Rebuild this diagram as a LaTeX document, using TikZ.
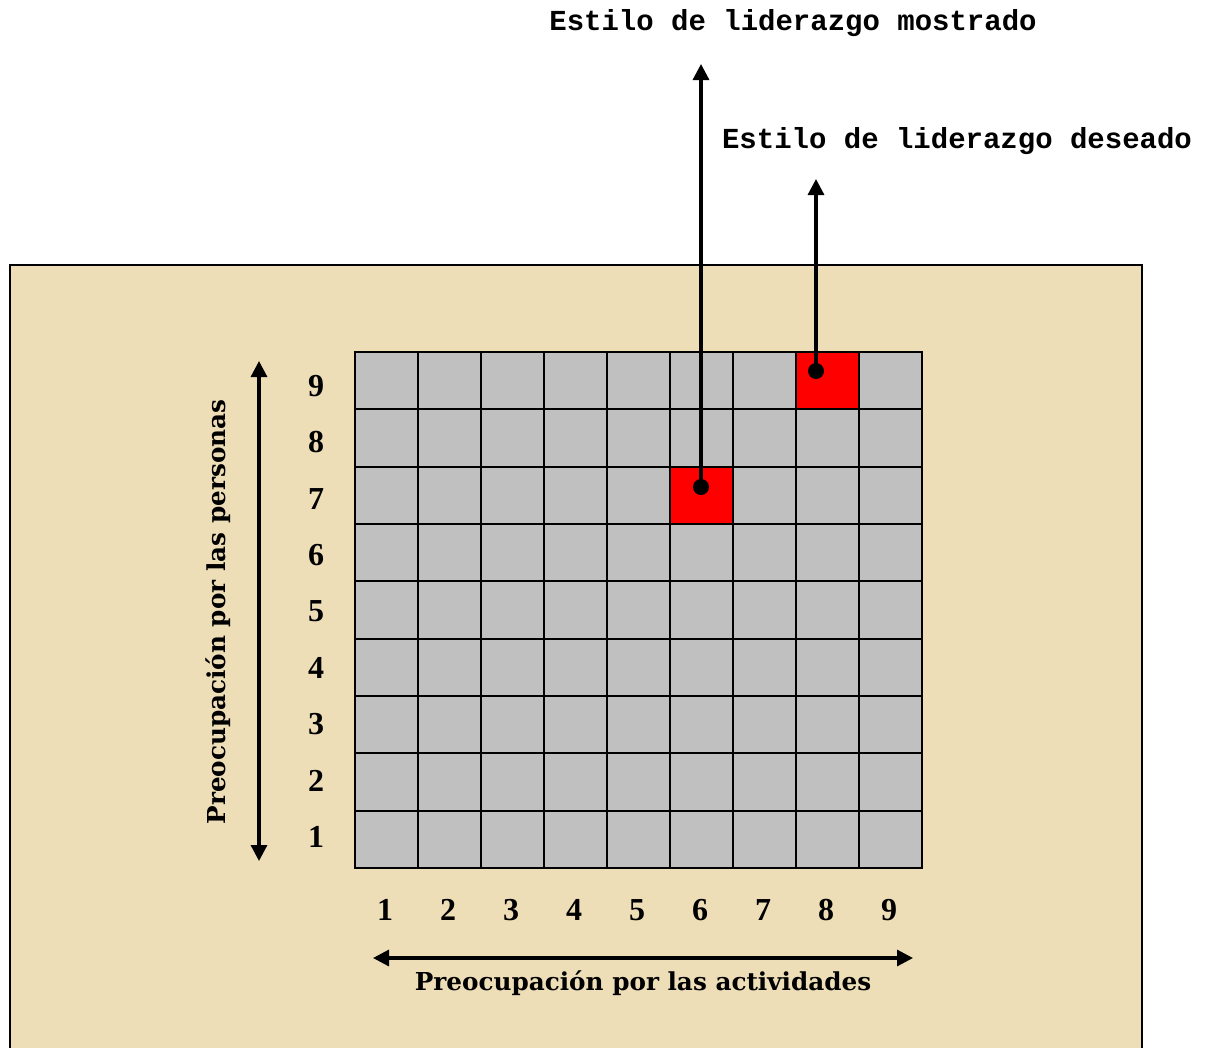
\documentclass[tikz,border=0pt]{standalone}
\usepackage{fontspec}
\setmainfont{Liberation Serif}
\newfontfamily\monofont{Liberation Mono}
\newfontfamily\labfont{DejaVu Serif}
\usetikzlibrary{arrows.meta}
\definecolor{parch}{RGB}{238,222,184}
\definecolor{cellgray}{RGB}{192,192,192}
\definecolor{cellred}{RGB}{255,0,0}
\tikzset{
  cellbox/.style={draw=black,line width=2pt,fill=cellgray},
  redbox/.style={draw=black,line width=2pt,fill=cellred},
  num/.style={font=\fontsize{32}{32}\selectfont\bfseries,inner sep=0pt},
  axislab/.style={font=\labfont\fontsize{24.7}{24.7}\selectfont\bfseries,inner sep=0pt},
  toplab/.style={font=\monofont\fontsize{29}{29}\selectfont\bfseries,inner sep=0pt},
  arr/.style={line width=3.2pt,-{Triangle[width=16pt,length=16pt]}},
  darr/.style={line width=3.2pt,{Triangle[width=16pt,length=16pt]}-{Triangle[width=16pt,length=16pt]}},
  dot/.style={circle,fill=black,inner sep=0pt,minimum size=16pt}
}
\begin{document}
\begin{tikzpicture}[x=1pt,y=-1pt]
\useasboundingbox (0,0) rectangle (1210,1047);
\fill[white] (0,0) rectangle (1210,1047);
% background panel
\path[fill=parch,draw=black,line width=2pt] (10,265) rectangle (1142,1060);
% grid
\foreach \c in {0,...,8}{
  \foreach \r in {0,...,8}{
    \path[cellbox] ({355+\c*63},{352+\r*57.33}) rectangle ({355+(\c+1)*63},{352+(\r+1)*57.33});
  }
}
\path[redbox] ({355+5*63},{352+2*57.33}) rectangle ({355+6*63},{352+3*57.33});
\path[redbox] ({355+7*63},{352}) rectangle ({355+8*63},{352+57.33});
% dots
\node[dot] (shown) at (701,487) {};
\node[dot] (wanted) at (816,371) {};
\coordinate (shownTip) at (701,64);
\coordinate (wantedTip) at (816,179);
\draw[arr] (shown.center) -- (shownTip);
\draw[arr] (wanted.center) -- (wantedTip);
% top labels
\node[toplab] (lshown) at (793,23) {Estilo de liderazgo mostrado};
\node[toplab] (lwanted) at (957,141) {Estilo de liderazgo deseado};
% y numbers
\foreach \i in {1,...,9}{
  \node[num] (y\i) at (316,{837-(\i-1)*56.4}) {\i};
}
% x numbers
\foreach \i in {1,...,9}{
  \node[num] (x\i) at ({385+(\i-1)*63},910) {\i};
}
% axes arrows
\coordinate (vtop) at (259,361);
\coordinate (vbot) at (259,861);
\draw[darr] (vbot) -- (vtop);
\coordinate (hl) at (373,958);
\coordinate (hr) at (913,958);
\draw[darr] (hl) -- (hr);
\node[axislab,rotate=90] (ylab) at (218,612) {Preocupación por las personas};
\node[axislab] (xlab) at (643,983) {Preocupación por las actividades};
\end{tikzpicture}
\end{document}
